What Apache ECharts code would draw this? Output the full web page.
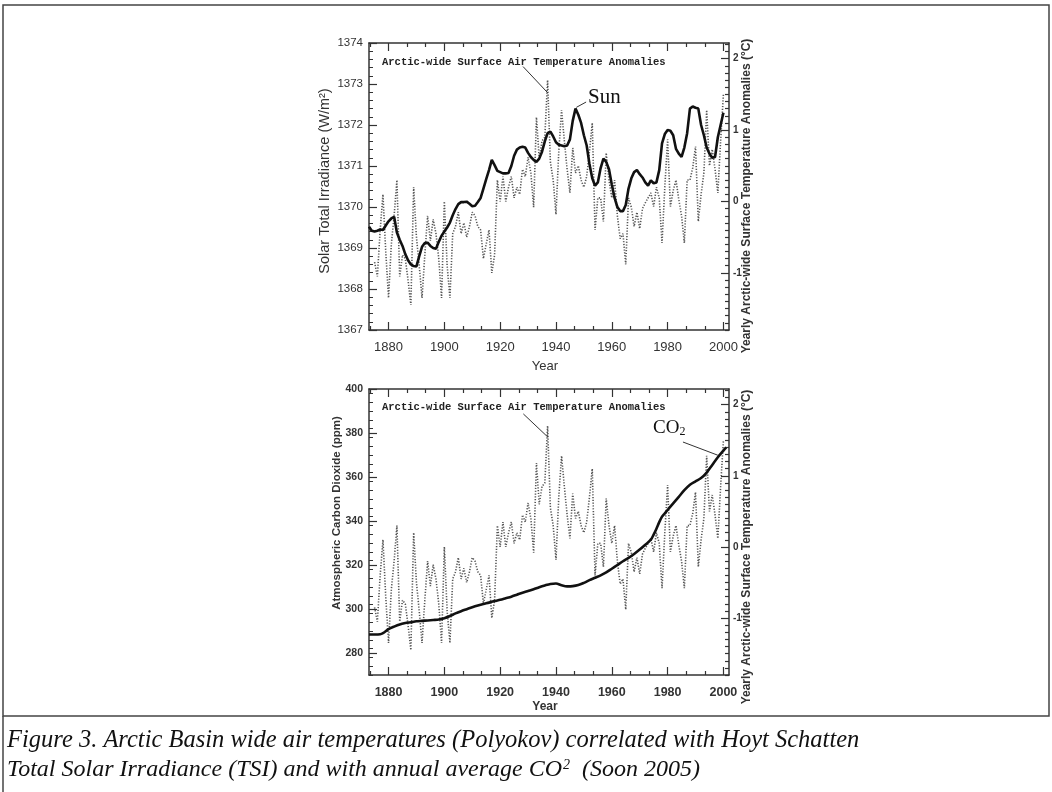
<!DOCTYPE html>
<html><head><meta charset="utf-8">
<script src="https://cdn.jsdelivr.net/npm/echarts@6/dist/echarts.min.js"></script>
<style>html,body{margin:0;padding:0;background:#fff}#c{width:1052px;height:792px}</style>
</head><body><div id="c"></div>
<script>
// ---------------- DATA ----------------
const sunStartYear = 1873;
const sunTSI = [
 1369.52,1369.42,1369.40,1369.42,1369.45,1369.44,1369.55,
 1369.65,1369.72,1369.76,1369.38,1369.20,1369.05,1368.85,1368.70,1368.60,1368.56,
 1368.55,1368.80,1369.03,1369.12,1369.13,1369.05,1369.00,1368.98,1369.15,1369.30,
 1369.40,1369.50,1369.62,1369.80,1369.95,1370.07,1370.12,1370.12,1370.13,1370.08,
 1370.02,1370.03,1370.12,1370.22,1370.45,1370.68,1370.90,1371.15,1371.02,1370.88,
 1370.85,1370.82,1370.82,1370.83,1371.00,1371.25,1371.40,1371.45,1371.47,1371.45,
 1371.32,1371.22,1371.15,1371.10,1371.18,1371.35,1371.60,1371.80,1371.84,1371.72,
 1371.58,1371.52,1371.50,1371.48,1371.50,1371.65,1372.10,1372.40,1372.25,1372.05,
 1371.75,1371.50,1371.05,1370.70,1370.52,1370.60,1370.95,1371.18,1371.10,1370.92,
 1370.55,1370.22,1370.00,1369.90,1369.90,1370.05,1370.45,1370.70,1370.85,1370.90,
 1370.80,1370.72,1370.60,1370.52,1370.65,1370.58,1370.60,1370.90,1371.55,1371.78,
 1371.88,1371.86,1371.75,1371.42,1371.30,1371.22,1371.45,1371.80,1372.40,1372.45,
 1372.42,1372.40,1372.00,1371.75,1371.45,1371.30,1371.20,1371.22,1371.70,1372.00,1372.30
];
const tempStartYear = 1875;
const tempAnomaly = [
 -0.85,-1.05,-0.40,0.10,-0.70,
 -1.35,-0.60,-0.20,0.30,-1.05,
 -0.75,-0.80,-1.10,-1.45,0.20,
 -0.50,-0.90,-1.35,-0.75,-0.20,
 -0.55,-0.25,-0.45,-0.80,-1.35,
 0.00,-0.90,-1.35,-0.45,-0.35,
 -0.15,-0.45,-0.30,-0.50,-0.35,
 -0.15,-0.20,-0.35,-0.40,-0.80,
 -0.60,-0.40,-1.00,-0.75,0.30,
 0.00,0.35,0.00,0.20,0.35,
 0.05,0.20,0.10,0.45,0.35,
 0.62,0.40,-0.08,1.18,0.60,
 0.85,0.90,1.70,0.55,0.30,
 -0.18,0.70,1.28,0.85,0.45,
 0.12,0.75,0.40,0.50,0.30,
 0.20,0.35,0.70,1.10,-0.40,
 0.05,0.05,-0.28,0.68,0.30,
 0.05,0.30,-0.20,-0.52,-0.45,
 -0.88,0.05,-0.08,-0.35,-0.15,
 -0.38,-0.10,-0.02,0.05,0.12,
 -0.07,0.20,0.05,-0.58,0.20,
 0.87,-0.07,0.15,0.30,0.03,
 -0.20,-0.58,0.30,0.30,0.47,
 0.77,-0.28,0.10,0.40,1.28,
 0.50,0.73,0.45,0.12,0.85,
 1.50
];
const co2Years = [1873,1875,1877,1878,1880,1882,1884,1886,1888,1890,1892,1894,1896,1898,1900,1902,1904,1906,1908,1910,1912,1914,1916,1918,1920,1922,1924,1926,1928,1930,1932,1934,1936,1938,1940,1942,1944,1946,1948,1950,1952,1954,1956,1958,1960,1962,1964,1966,1968,1970,1972,1974,1975,1976,1977,1978,1979,1980,1982,1984,1986,1988,1990,1992,1994,1996,1998,2000,2001];
const co2Values = [288.4,288.4,288.5,289.0,290.8,292.0,293.0,293.6,294.0,294.4,294.6,294.8,295.0,295.2,295.8,296.8,298.0,299.0,299.9,300.8,301.6,302.3,302.9,303.6,304.2,304.9,305.6,306.5,307.4,308.2,309.0,309.9,310.7,311.4,311.6,310.8,310.3,310.4,310.9,311.9,313.1,314.2,315.3,316.6,318.3,320.0,321.7,323.2,325.0,327.0,329.2,331.5,333.8,336.5,339.5,342.0,343.5,345.0,348.0,351.0,354.0,356.5,358.0,359.5,362.0,365.5,369.0,372.0,373.5];
const xTickYears = [1880,1900,1920,1940,1960,1980,2000];
const tempTickLabels = [-1,0,1,2];
const co2TickLabels = [280,300,320,340,360,380,400];

// --------------- LAYOUT ---------------
const G0 = {left:369, top:43, width:360, height:287};
const G1 = {left:369, top:389, width:360, height:286};
const X_MIN = 1873, X_MAX = 2002;
const TEMP_MIN = -1.8, TEMP_MAX = 2.22;
const AX = '#333';

const sunData = sunTSI.map((v,i)=>[sunStartYear+i, v]);
const tempData = tempAnomaly.map((v,i)=>[tempStartYear+i, v]);
const co2Data = co2Years.map((y,i)=>[y, co2Values[i]]);

function minorX(){ const v=[]; for(let m=1860;m<=2000;m+=20){ for(const k of [1,2]){ const t=m+20*k/3; if(t>X_MIN&&t<X_MAX) v.push(t);} } return v; }
function minorTemp(){ const v=[]; for(let k=-18;k<=22;k++){ if(k%10!==0) v.push(k/10);} return v; }
function minorCO2(){ const v=[]; for(let k=270;k<=400;k+=4){ if(k%20!==0) v.push(k);} return v; }
const plain = v=>String(v);

function xAx(gi, pos, ticks, len, labelStyle, showLine){
  return {type:'value', gridIndex:gi, position:pos, min:X_MIN, max:X_MAX,
    axisLine:{show:showLine, onZero:false, lineStyle:{color:AX,width:1.5}},
    axisTick:{show:true, inside:true, length:len, customValues:ticks, lineStyle:{color:AX,width:1.2}},
    axisLabel: labelStyle ? Object.assign({show:true, customValues:xTickYears, margin:11, color:'#333', formatter:plain}, labelStyle) : {show:false},
    splitLine:{show:false}};
}
function tempAx(gi, ticks, len, labels, showLine){
  return {type:'value', gridIndex:gi, position:'right', min:TEMP_MIN, max:TEMP_MAX,
    axisLine:{show:showLine, onZero:false, lineStyle:{color:AX,width:1.5}},
    axisTick:{show:true, inside:true, length:len, customValues:ticks, lineStyle:{color:AX,width:1.2}},
    axisLabel: labels ? {show:true, customValues:tempTickLabels, margin:4, color:'#333', fontSize:10, fontWeight:'bold', fontFamily:'Liberation Sans', formatter:v=>String(Math.round(v))} : {show:false},
    splitLine:{show:false}};
}

const xAxes = [
  xAx(0,'bottom',xTickYears,8,{fontSize:13,fontFamily:'Liberation Sans'},true),
  xAx(0,'top',xTickYears,8,null,true),
  xAx(0,'bottom',minorX(),4,null,false),
  xAx(0,'top',minorX(),4,null,false),
  xAx(1,'bottom',xTickYears,8,{fontSize:12.5,fontWeight:'bold',fontFamily:'Liberation Sans'},true),
  xAx(1,'top',xTickYears,8,null,true),
  xAx(1,'bottom',minorX(),4,null,false),
  xAx(1,'top',minorX(),4,null,false)
];
const yAxes = [
  {type:'value', gridIndex:0, position:'left', min:1367, max:1374, interval:1,
   axisLine:{show:true,onZero:false,lineStyle:{color:AX,width:1.5}},
   axisTick:{show:true,inside:true,length:8,lineStyle:{color:AX,width:1.2}},
   minorTick:{show:true,splitNumber:5,length:4,lineStyle:{color:AX,width:1}},
   axisLabel:{margin:6,color:'#333',fontSize:11.5,fontFamily:'Liberation Sans',formatter:plain},
   splitLine:{show:false}},
  tempAx(0,tempTickLabels,8,true,true),
  tempAx(0,minorTemp(),4,false,false),
  {type:'value', gridIndex:1, position:'left', min:270, max:400,
   axisLine:{show:true,onZero:false,lineStyle:{color:AX,width:1.5}},
   axisTick:{show:true,inside:true,length:8,customValues:co2TickLabels,lineStyle:{color:AX,width:1.2}},
   axisLabel:{customValues:co2TickLabels,margin:6,color:'#333',fontSize:10.5,fontWeight:'bold',fontFamily:'Liberation Sans',formatter:plain},
   splitLine:{show:false}},
  {type:'value', gridIndex:1, position:'left', min:270, max:400,
   axisLine:{show:false},
   axisTick:{show:true,inside:true,length:4,customValues:minorCO2(),lineStyle:{color:AX,width:1}},
   axisLabel:{show:false}, splitLine:{show:false}},
  tempAx(1,tempTickLabels,8,true,true),
  tempAx(1,minorTemp(),4,false,false)
];

const dotted = {type:[1.2,1.6], width:1.6, color:'#555'};
const leader = {symbol:['none','none'], silent:true, label:{show:false}, lineStyle:{type:'solid',color:'#333',width:1}};

const series = [
  {type:'line', xAxisIndex:0, yAxisIndex:1, data:tempData, symbol:'none', lineStyle:dotted, z:2,
   markLine:Object.assign({data:[[{coord:[1928.2,1.89]},{coord:[1937.1,1.52]}]]},leader)},
  {type:'line', xAxisIndex:0, yAxisIndex:0, data:sunData, symbol:'none', lineStyle:{color:'#111',width:2.6}, z:3,
   markLine:Object.assign({data:[[{coord:[1950.8,1372.56]},{coord:[1947.3,1372.43]}]]},leader)},
  {type:'line', xAxisIndex:4, yAxisIndex:5, data:tempData, symbol:'none', lineStyle:dotted, z:2,
   markLine:Object.assign({data:[[{coord:[1928.3,1.87]},{coord:[1937.2,1.54]}]]},leader)},
  {type:'line', xAxisIndex:4, yAxisIndex:3, data:co2Data, symbol:'none', smooth:0.3, lineStyle:{color:'#111',width:2.6}, z:3,
   markLine:Object.assign({data:[[{coord:[1985.5,375.9]},{coord:[1998,369.9]}]]},leader)}
];

function vtext(x,y,text,size,weight){
  return {type:'text', x:x, y:y, rotation:Math.PI/2, style:{text:text, fontSize:size, fontWeight:weight||'normal', fontFamily:'Liberation Sans', fill:'#333', textAlign:'center', textVerticalAlign:'middle'}};
}
function htext(x,y,text,size,extra){
  return {type:'text', x:x, y:y, style:Object.assign({text:text, fontSize:size, fontFamily:'Liberation Sans', fill:'#333', textAlign:'center', textVerticalAlign:'middle'}, extra||{})};
}
const annFont = {fontFamily:'Liberation Mono', fontWeight:'bold', textAlign:'left', fill:'#222'};

const graphic = [
  {type:'rect', shape:{x:3,y:5,width:1046,height:711}, style:{fill:null, stroke:'#444', lineWidth:1.5}},
  {type:'line', shape:{x1:3,y1:716,x2:3,y2:792}, style:{stroke:'#444', lineWidth:1.5}},
  vtext(325,181,'Solar Total Irradiance (W/m²)',14.5),
  vtext(747,196,'Yearly Arctic-wide Surface Temperature Anomalies (°C)',12,'bold'),
  vtext(337,513,'Atmospheric Carbon Dioxide (ppm)',11.5,'bold'),
  vtext(747,547,'Yearly Arctic-wide Surface Temperature Anomalies (°C)',12,'bold'),
  htext(545,366,'Year',13),
  htext(545,707,'Year',12,{fontWeight:'bold'}),
  htext(382,62,'Arctic-wide Surface Air Temperature Anomalies',10.5,annFont),
  htext(382,407,'Arctic-wide Surface Air Temperature Anomalies',10.5,annFont),
  htext(588,97,'Sun',21,{fontFamily:'Liberation Serif',textAlign:'left',fill:'#111'}),
  {type:'text', x:653, y:428, style:{text:'{b|CO}{s|2}', textAlign:'left', textVerticalAlign:'middle',
    rich:{b:{fontSize:19,fontFamily:'Liberation Serif',fill:'#111'}, s:{fontSize:12,fontFamily:'Liberation Serif',fill:'#111',verticalAlign:'bottom',padding:[6,0,0,0]}}}},
  {type:'text', x:7, y:741, style:{text:'Figure 3. Arctic Basin wide air temperatures (Polyokov) correlated with Hoyt Schatten', fontSize:24.5, fontStyle:'italic', fontFamily:'Liberation Serif', fill:'#111', textAlign:'left', textVerticalAlign:'middle'}},
  {type:'text', x:7, y:770, style:{text:'{a|Total Solar Irradiance (TSI) and with annual average CO}{s|2}{a| (Soon 2005)}', textAlign:'left', textVerticalAlign:'middle',
    rich:{a:{fontSize:24,fontStyle:'italic',fontFamily:'Liberation Serif',fill:'#111'}, s:{fontSize:14,fontStyle:'italic',fontFamily:'Liberation Serif',fill:'#111',verticalAlign:'top',padding:[0,6,10,1]}}}}
];

const chart = echarts.init(document.getElementById('c'), null, {renderer:'canvas'});
chart.setOption({
  animation:false,
  backgroundColor:'#fff',
  grid:[Object.assign({containLabel:false},G0), Object.assign({containLabel:false},G1)],
  xAxis:xAxes, yAxis:yAxes, series:series, graphic:graphic
});
</script></body></html>
